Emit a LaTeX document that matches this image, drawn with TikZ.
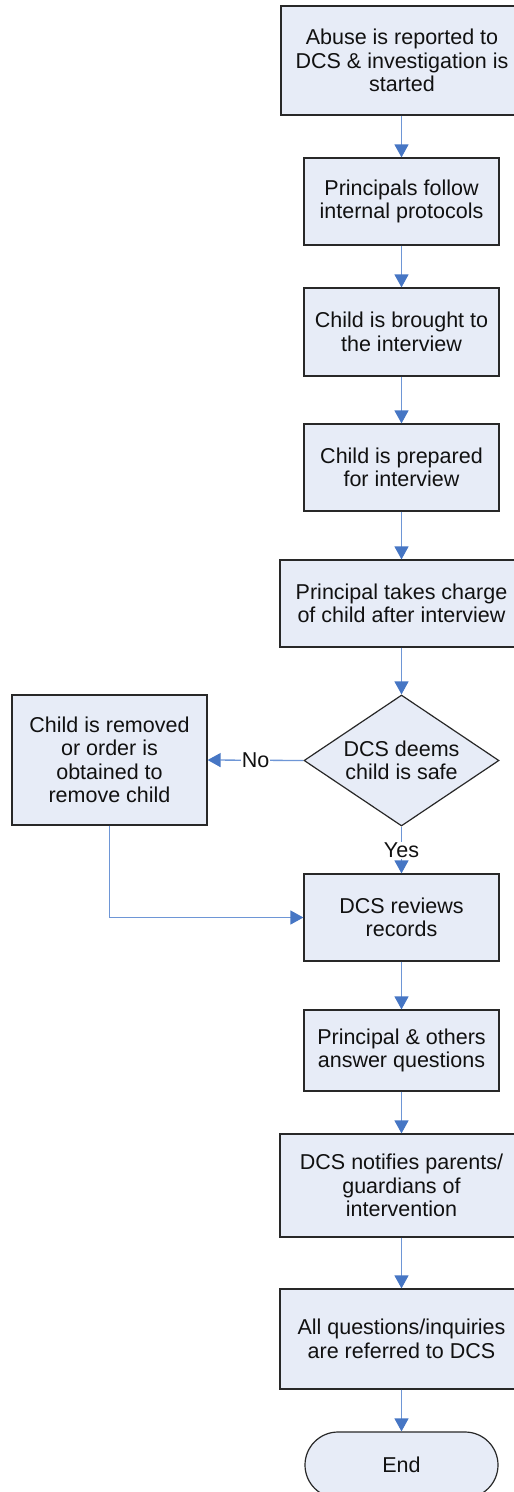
\documentclass[tikz,border=0pt]{standalone}
\usepackage{fontspec}
\setmainfont{Liberation Sans}
\usetikzlibrary{arrows.meta,shapes.geometric,shapes.misc}
\definecolor{boxfill}{RGB}{231,236,247}
\definecolor{boxline}{RGB}{40,40,40}
\definecolor{conline}{RGB}{110,150,214}
\definecolor{arrowblue}{RGB}{70,118,196}
\definecolor{txt}{RGB}{17,17,17}
\tikzset{
  proc/.style={draw=boxline, fill=boxfill, line width=1.2bp, inner sep=0pt, align=center, text=txt,
    font=\fontsize{21.5bp}{23.5bp}\selectfont},
  decision/.style={proc, diamond, aspect=1.49},
  term/.style={proc, rounded rectangle},
  conn/.style={draw=conline, line width=1.3bp, -{Triangle[width=14bp,length=13bp,color=arrowblue]}},
  lbl/.style={fill=white, inner sep=1bp, text=txt, font=\fontsize{21.5bp}{23.5bp}\selectfont}
}
\begin{document}
\begin{tikzpicture}[x=1bp,y=-1bp]
\useasboundingbox (0,0) rectangle (514,1492);
\clip (0,0) rectangle (514,1492);
\fill[white] (0,0) rectangle (514,1492);
\node[proc, minimum width=242bp, minimum height=109bp] (b1) at (402,60.5) {Abuse is reported to\\DCS \& investigation is\\started};
\node[proc, minimum width=195bp, minimum height=87bp] (b2) at (401.5,201.5) {Principals follow\\internal protocols};
\node[proc, minimum width=195bp, minimum height=88bp] (b3) at (401.5,332) {Child is brought to\\the interview};
\node[proc, minimum width=195bp, minimum height=87bp] (b4) at (401.5,467.5) {Child is prepared\\for interview};
\node[proc, minimum width=243bp, minimum height=87bp] (b5) at (401.5,603.5) {Principal takes charge\\of child after interview};
\node[decision, minimum width=195bp, minimum height=131bp] (d) at (401.5,760.5) {DCS deems\\child is safe};
\node[proc, minimum width=195bp, minimum height=130bp] (rm) at (109.5,760) {Child is removed\\or order is\\obtained to\\remove child};
\node[proc, minimum width=195bp, minimum height=87bp] (b7) at (401.5,917.5) {DCS reviews\\records};
\node[proc, minimum width=195bp, minimum height=81bp] (b8) at (401.5,1050.5) {Principal \& others\\answer questions};
\node[proc, minimum width=243bp, minimum height=103bp] (b9) at (401.5,1185.5) {DCS notifies parents/\\guardians of\\intervention};
\node[proc, minimum width=243bp, minimum height=100bp] (b10) at (401.5,1339) {All questions/inquiries\\are referred to DCS};
\node[term, minimum width=193bp, minimum height=66bp] (e) at (401.5,1465) {End};

\draw[conn] (b1.south -| b2.north) -- (b2.north);
\draw[conn] (b2) -- (b3);
\draw[conn] (b3) -- (b4);
\draw[conn] (b4) -- (b5.north -| b4.south);
\draw[conn] (b5.south -| d.north) -- (d.north);
\draw[conn] (d.west) -- node[lbl] {No} (rm.east);
\draw[conn] (d.south) -- node[lbl] {Yes} (b7.north);
\draw[conn] (rm.south) |- (b7.west);
\draw[conn] (b7) -- (b8);
\draw[conn] (b8) -- (b9.north -| b8.south);
\draw[conn] (b9.south -| b10.north) -- (b10.north);
\draw[conn] (b10.south -| e.north) -- (e.north);
\end{tikzpicture}
\end{document}
